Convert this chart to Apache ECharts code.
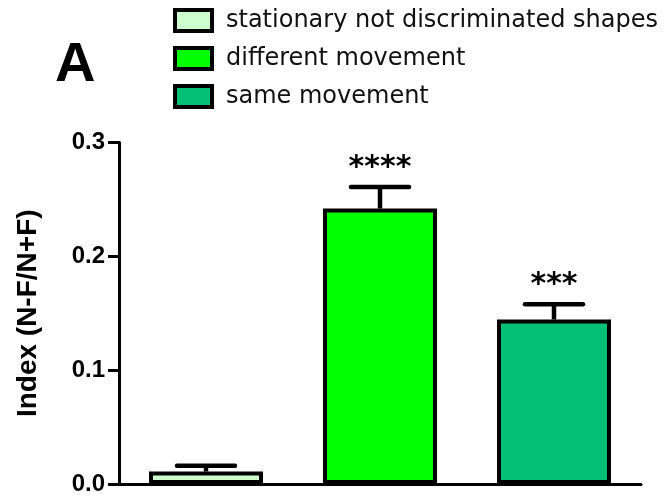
<!DOCTYPE html>
<html>
<head>
<meta charset="utf-8">
<script src="https://cdn.jsdelivr.net/npm/echarts@6/dist/echarts.min.js"></script>
<style>html,body{margin:0;padding:0;background:#fff}#c{width:668px;height:496px}</style>
</head>
<body>
<div id="c"></div>
<script>
const categories = ['stationary not discriminated shapes', 'different movement', 'same movement'];
const values = [0.011, 0.242, 0.1445];
const errors = [0.005, 0.019, 0.0135];
const significance = ['', '****', '***'];
const colors = ['#CCFFCC', '#00FF00', '#04BF76'];
const yTicks = { min: 0, max: 0.3, interval: 0.1 };
const yAxisTitle = 'Index (N-F/N+F)';
const panelLabel = 'A';

const chart = echarts.init(document.getElementById('c'), null, { renderer: 'canvas' });

const barSeries = categories.map((name, i) => ({
  name: name,
  type: 'bar',
  barWidth: 114,
  barGap: '-100%',
  data: values.map((v, j) => (j === i ? v : null)),
  itemStyle: { color: colors[i], borderColor: '#000', borderWidth: 4 },
  z: 2
}));

const errorSeries = {
  type: 'custom',
  data: values.map((v, i) => [i, v, errors[i], significance[i]]),
  z: 3,
  silent: true,
  renderItem: function (params, api) {
    const x = api.value(0);
    const v = api.value(1);
    const e = api.value(2);
    const base = api.coord([x, v]);
    const top = api.coord([x, v + e]);
    const sig = significance[x];
    const style = { stroke: '#000', lineWidth: 4.5, lineCap: 'round' };
    const children = [
      { type: 'line', shape: { x1: base[0], y1: base[1], x2: top[0], y2: top[1] }, style: { stroke: '#000', lineWidth: 4.5 } },
      { type: 'line', shape: { x1: top[0] - 29, y1: top[1], x2: top[0] + 29, y2: top[1] }, style: style }
    ];
    if (sig) {
      children.push({
        type: 'text',
        style: {
          text: sig, x: top[0], y: top[1] - 4,
          align: 'center', verticalAlign: 'bottom',
          fontFamily: 'DejaVu Sans', fontWeight: 'bold', fontSize: 30, fill: '#000'
        }
      });
    }
    return { type: 'group', children: children };
  }
};

chart.setOption({
  animation: false,
  title: {
    text: panelLabel, left: 50, top: 33,
    textStyle: { fontFamily: 'Liberation Sans', fontWeight: 'bold', fontSize: 56, color: '#000' }
  },
  legend: {
    orient: 'vertical', left: 168, top: 3, itemGap: 13,
    itemWidth: 37, itemHeight: 21, icon: 'rect',
    data: categories,
    itemStyle: { borderColor: '#000', borderWidth: 4 },
    textStyle: { fontFamily: 'DejaVu Sans', fontWeight: 'normal', fontSize: 24, color: '#111', padding: [0, 0, 0, 9] }
  },
  grid: { left: 119, right: 27, top: 142.5, bottom: 11.5, containLabel: false },
  xAxis: {
    type: 'category', data: categories,
    axisLine: { lineStyle: { color: '#000', width: 3 } },
    axisTick: { show: false }, axisLabel: { show: false }
  },
  yAxis: {
    type: 'value', min: yTicks.min, max: yTicks.max, interval: yTicks.interval,
    name: yAxisTitle, nameLocation: 'middle', nameGap: 77, nameRotate: 90,
    nameTextStyle: { fontFamily: 'Liberation Sans', fontWeight: 'bold', fontSize: 28, color: '#000' },
    axisLine: { show: true, lineStyle: { color: '#000', width: 3 } },
    axisTick: { show: true, length: 11, lineStyle: { color: '#000', width: 3 } },
    axisLabel: { margin: 14, fontFamily: 'Liberation Sans', fontWeight: 'bold', fontSize: 24, color: '#000',
      formatter: v => v.toFixed(1) },
    splitLine: { show: false }
  },
  series: barSeries.concat([errorSeries])
});
</script>
</body>
</html>
